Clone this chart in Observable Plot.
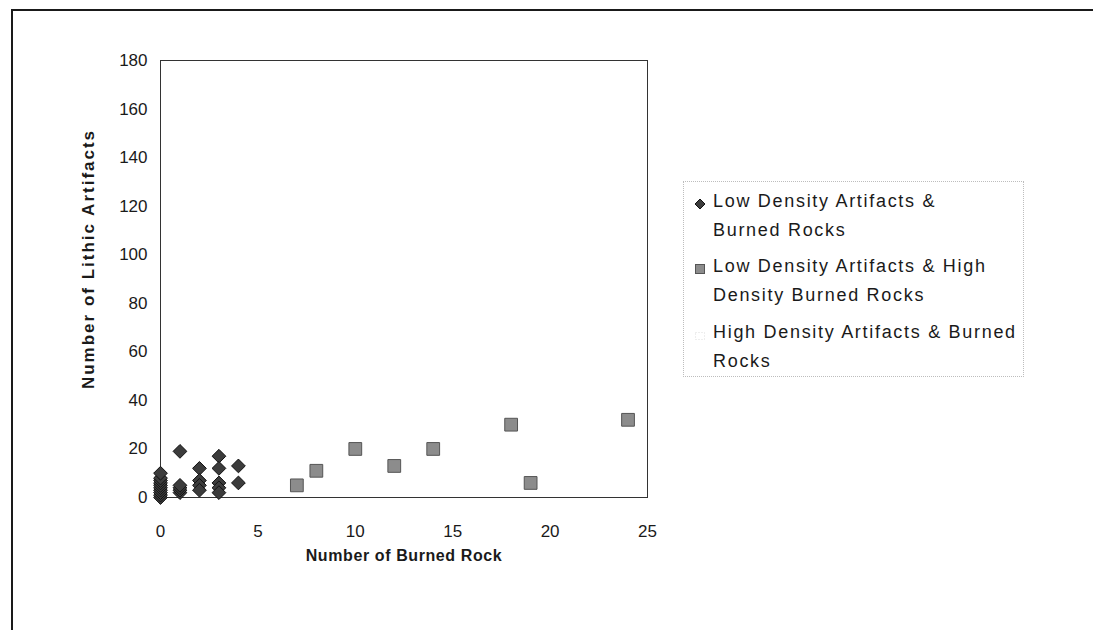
<!DOCTYPE html>
<html><head><meta charset="utf-8">
<script src="https://cdn.jsdelivr.net/npm/d3@7"></script>
<script src="https://cdn.jsdelivr.net/npm/@observablehq/plot@0.6"></script>
<style>
body{margin:0;background:#fff;font-family:"Liberation Sans",Arial,sans-serif;}
#wrap{position:relative;width:1093px;height:630px;overflow:hidden;background:#fff;}
#border{position:absolute;left:11px;top:9px;width:1200px;height:800px;border-top:2px solid #1a1a1a;border-left:2px solid #1a1a1a;pointer-events:none;}
#chart{position:absolute;left:0;top:0;}
#legend{position:absolute;left:683px;top:181px;width:341px;height:196px;border:1px dotted #bdbdbd;box-sizing:border-box;}
.item{position:absolute;left:29px;font-size:18px;letter-spacing:1.7px;line-height:28.5px;color:#1a1a1a;white-space:nowrap;}
.mk{position:absolute;left:10px;}
.ytitle{letter-spacing:2px;}
.xtitle{letter-spacing:0.6px;}
</style>
</head><body>
<div id="wrap">
  <div id="chart"></div>
  <div id="border"></div>
  <div id="legend"></div>
</div>
<script>
// Series 1: Low Density Artifacts & Burned Rocks
const lowX = [0,0,0,0,0,0,0,0,0,0, 1,1,1,1,1, 2,2,2,2, 3,3,3,3,3, 4,4];
const lowY = [0,1,2,3,4,5,6,7,8,10, 19,2,3,4,5, 12,7,5,3, 17,12,6,4,2, 13,6];
// Series 2: Low Density Artifacts & High Density Burned Rocks
const highBurnX = [7, 8, 10, 12, 14, 18, 19, 24];
const highBurnY = [5, 11, 20, 13, 20, 30, 6, 32];
// Series 3: High Density Artifacts & Burned Rocks (no visible points)
const highX = [];
const highY = [];
const seriesNames = [
  "Low  Density Artifacts &<br>Burned Rocks",
  "Low  Density Artifacts & High<br>Density Burned Rocks",
  "High Density Artifacts & Burned<br>Rocks"
];
const xTicks = [0,5,10,15,20,25];
const yTicks = [0,20,40,60,80,100,120,140,160,180];
const xTitle = "Number of Burned Rock";
const yTitle = "Number of Lithic Artifacts";

const s1 = lowX.map((x,i)=>({x, y: lowY[i]}));
const s2 = highBurnX.map((x,i)=>({x, y: highBurnY[i]}));
const s3 = highX.map((x,i)=>({x, y: highY[i]}));

const plot = Plot.plot({
  width: 1093,
  height: 630,
  marginLeft: 160,
  marginRight: 446,
  marginTop: 60,
  marginBottom: 133,
  style: {fontFamily: '"Liberation Sans", Arial, sans-serif', fontSize: "17px", color: "#1a1a1a", background: "transparent"},
  x: {domain: [0,25], ticks: xTicks},
  y: {domain: [0,180], ticks: yTicks},
  marks: [
    Plot.frame({stroke: "#333", strokeWidth: 1}),
    Plot.axisX({ticks: xTicks, tickSize: 0, tickPadding: 27, fontSize: 17, label: null}),
    Plot.axisY({ticks: yTicks, tickSize: 0, tickPadding: 13, fontSize: 17, label: null}),
    Plot.text([xTitle], {frameAnchor: "bottom", dy: 63, fontWeight: "bold", fontSize: 16, fill: "#1a1a1a", className: "xtitle"}),
    Plot.text([yTitle], {frameAnchor: "left", dx: -72, dy: -20, rotate: -90, textAnchor: "middle", fontWeight: "bold", fontSize: 17, fill: "#1a1a1a", className: "ytitle"}),
    Plot.dot(s3, {x: "x", y: "y", symbol: "triangle", r: 5, fill: "#eee", stroke: "#ccc"}),
    Plot.dot(s2, {x: "x", y: "y", symbol: "square", r: 7.2, fill: "#8c8c8c", stroke: "#555", strokeWidth: 1}),
    Plot.dot(s1, {x: "x", y: "y", symbol: "diamond2", r: 6.2, fill: "#3c3c3c", stroke: "#111", strokeWidth: 1})
  ]
});
document.getElementById("chart").appendChild(plot);

// Legend
const leg = document.getElementById("legend");
const tops = [5, 70, 136];
const markers = [
  '<svg width="12" height="12"><path d="M6 1 L11 6 L6 11 L1 6 Z" fill="#3c3c3c" stroke="#111"/></svg>',
  '<svg width="12" height="12"><rect x="1.5" y="1.5" width="9" height="9" fill="#8c8c8c" stroke="#555"/></svg>',
  '<svg width="12" height="12"><rect x="1.5" y="3.5" width="9" height="7" fill="none" stroke="#ddd" stroke-dasharray="1 2"/></svg>'
];
seriesNames.forEach((name, i) => {
  const d = document.createElement("div");
  d.className = "item";
  d.style.top = tops[i] + "px";
  d.innerHTML = name;
  leg.appendChild(d);
  const m = document.createElement("div");
  m.className = "mk";
  m.style.top = (tops[i] + 9) + "px";
  m.innerHTML = markers[i];
  leg.appendChild(m);
});
</script>
</body></html>
